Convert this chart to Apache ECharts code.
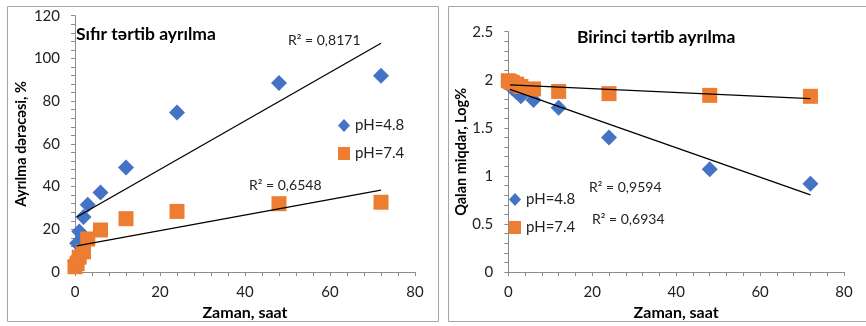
<!DOCTYPE html>
<html><head><meta charset="utf-8">
<script src="https://cdn.jsdelivr.net/npm/echarts@6/dist/echarts.min.js"></script>
<style>html,body{margin:0;padding:0;background:#fff}#c{width:866px;height:326px}</style>
</head><body><div id="c"></div><script>
// ---- data ----
const times = [0, 0.5, 1, 2, 3, 6, 12, 24, 48, 72];
const release48 = [5, 13.5, 19, 25.8, 31.5, 37.3, 48.9, 74.7, 88.5, 91.9];
const release74 = [2.5, 4, 7, 9.5, 15.5, 19.7, 25, 28.4, 32, 32.7];
const logRem48 = [1.98, 1.94, 1.91, 1.87, 1.83, 1.79, 1.71, 1.40, 1.07, 0.92];
const logRem74 = [1.99, 1.98, 1.97, 1.955, 1.93, 1.905, 1.879, 1.856, 1.838, 1.828];
const trendT = [0.4, 72];
const trendZero48 = [25.8, 107.1];
const trendZero74 = [12.3, 38.4];
const trendFirst48 = [1.90, 0.804];
const trendFirst74 = [1.947, 1.805];
const seriesNames = ['pH=4.8', 'pH=7.4'];
const r2Labels = ['R² = 0,8171', 'R² = 0,6548', 'R² = 0,9594', 'R² = 0,6934'];
const titles = ['Sıfır tərtib ayrılma', 'Birinci tərtib ayrılma'];
const xName = 'Zaman, saat';
const yNames = ['Ayrılma dərəcəsi, %', 'Qalan miqdar, Log%'];

const FONT = 'Lato, "Open Sans", sans-serif';
const BLUE = '#4472C4', ORANGE = '#ED7D31', AX = '#8c8c8c';
const zip = (a, b) => a.map((v, i) => [v, b[i]]);

function xAxis(gi) {
  return {
    type: 'value', gridIndex: gi, min: 0, max: 80, interval: 20,
    name: xName, nameLocation: 'middle', nameGap: 25,
    nameTextStyle: {fontFamily: FONT, fontWeight: 'bold', fontSize: 16, color: '#000'},
    axisLine: {onZero: false, lineStyle: {color: AX, width: 1}},
    axisTick: {show: true, length: 4, lineStyle: {color: AX}},
    minorTick: {show: true, splitNumber: 5, length: 4, lineStyle: {color: AX}},
    splitLine: {show: false},
    axisLabel: {fontFamily: FONT, fontSize: 15, color: '#222', margin: 13}
  };
}
function yAxis(gi, max, interval, fmt, gap) {
  return {
    type: 'value', gridIndex: gi, min: 0, max: max, interval: interval,
    name: yNames[gi], nameLocation: 'middle', nameGap: gap, nameRotate: 90,
    nameTextStyle: {fontFamily: FONT, fontWeight: 'bold', fontSize: 14.5, color: '#000'},
    axisLine: {show: true, onZero: false, lineStyle: {color: AX, width: 1}},
    axisTick: {show: true, length: 4, lineStyle: {color: AX}},
    minorTick: {show: true, splitNumber: 5, length: 4, lineStyle: {color: AX}},
    splitLine: {show: false},
    axisLabel: {fontFamily: FONT, fontSize: 15, color: '#222', margin: 15, formatter: fmt}
  };
}
function scatter(name, gi, data, sym) {
  return {
    type: 'scatter', name: name, xAxisIndex: gi, yAxisIndex: gi, data: data,
    symbol: sym, symbolSize: sym === 'diamond' ? 16 : 15,
    itemStyle: {color: name === seriesNames[0] ? BLUE : ORANGE, opacity: 1}, z: 2
  };
}
function trend(gi, ys) {
  return {
    type: 'line', xAxisIndex: gi, yAxisIndex: gi, data: zip(trendT, ys),
    symbol: 'none', lineStyle: {color: '#000', width: 1.3}, z: 5, silent: true
  };
}
function legend(gi, left, top) {
  return {
    orient: 'vertical', left: left, top: top, itemGap: 13, itemWidth: 12, itemHeight: 13,
    textStyle: {fontFamily: FONT, fontSize: 15, color: '#222'},
    data: [{name: seriesNames[0], icon: 'diamond', itemStyle: {opacity: 1}},
           {name: seriesNames[1], icon: 'rect', itemStyle: {opacity: 1}}],
    selectedMode: false
  };
}
const txt = (x, y, s, opt) => ({type: 'text', left: x, top: y, silent: true,
  style: Object.assign({text: s, fontFamily: FONT, fontSize: 14, fill: '#222'}, opt || {})});

const chart = echarts.init(document.getElementById('c'), null, {renderer: 'canvas'});
chart.setOption({
  animation: false,
  grid: [
    {left: 75, top: 15.7, width: 340, height: 260.3},
    {left: 508.3, top: 31.7, width: 335.7, height: 245.6}
  ],
  xAxis: [xAxis(0), xAxis(1)],
  yAxis: [yAxis(0, 120, 20, v => v, 46), yAxis(1, 2.5, 0.5, v => v, 38)],
  legend: [legend(0, 333, 113), legend(1, 504, 187)],
  series: [
    scatter(seriesNames[0], 0, zip(times, release48), 'diamond'),
    scatter(seriesNames[1], 0, zip(times, release74), 'rect'),
    trend(0, trendZero48), trend(0, trendZero74),
    scatter(seriesNames[0], 1, zip(times, logRem48), 'diamond'),
    scatter(seriesNames[1], 1, zip(times, logRem74), 'rect'),
    trend(1, trendFirst48), trend(1, trendFirst74)
  ],
  graphic: [
    {type: 'rect', shape: {x: 7.5, y: 6.5, width: 431, height: 315}, style: {fill: 'none', stroke: '#a6a6a6', lineWidth: 1}, silent: true, z: -1},
    {type: 'rect', shape: {x: 448.5, y: 6.5, width: 430, height: 315}, style: {fill: 'none', stroke: '#a6a6a6', lineWidth: 1}, silent: true, z: -1},
    txt(76, 25, titles[0], {fontWeight: 'bold', fontSize: 17.5, fill: '#000'}),
    txt(577, 28, titles[1], {fontWeight: 'bold', fontSize: 17.5, fill: '#000'}),
    txt(288, 33, r2Labels[0]),
    txt(249, 178, r2Labels[1]),
    txt(589, 180, r2Labels[2]),
    txt(592, 212, r2Labels[3])
  ]
});
</script></body></html>
